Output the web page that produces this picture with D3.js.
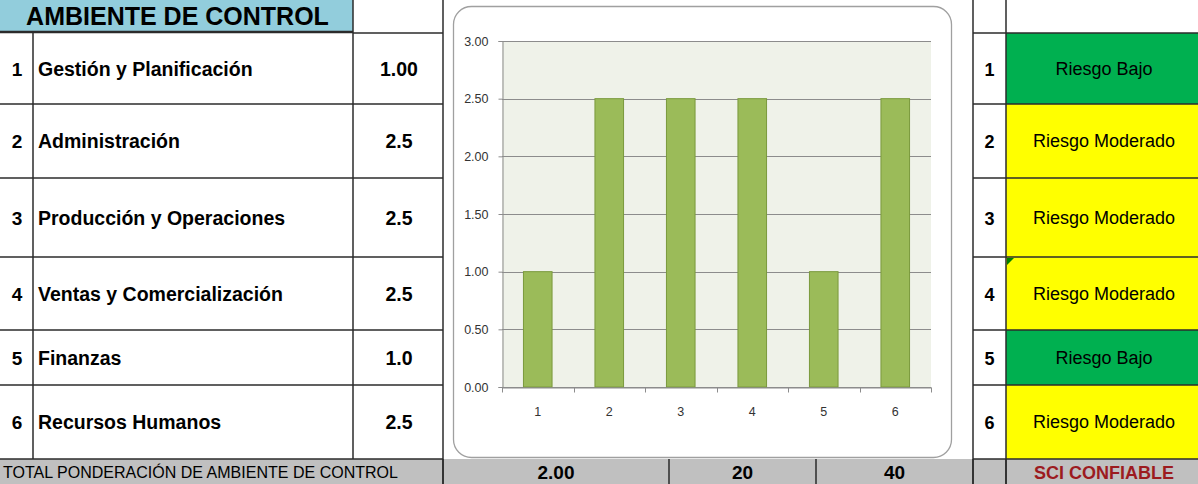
<!DOCTYPE html>
<html>
<head>
<meta charset="utf-8">
<script src="https://cdn.jsdelivr.net/npm/d3@7"></script>
<style>
  html, body { margin: 0; padding: 0; background: #fff; }
  svg { display: block; }
  text { font-family: "Liberation Sans", Arial, sans-serif; }
</style>
</head>
<body>
<svg id="sheet" width="1198" height="484"></svg>
<script>
// Evaluation items of the control environment
const itemNumbers = [1, 2, 3, 4, 5, 6];
const categories = [
  "Gestión y Planificación",
  "Administración",
  "Producción y Operaciones",
  "Ventas y Comercialización",
  "Finanzas",
  "Recursos Humanos"
];
const scores = [1.0, 2.5, 2.5, 2.5, 1.0, 2.5];
const scoreDecimals = [2, 1, 1, 1, 1, 1];
const riskLevels = [
  "Riesgo Bajo",
  "Riesgo Moderado",
  "Riesgo Moderado",
  "Riesgo Moderado",
  "Riesgo Bajo",
  "Riesgo Moderado"
];
const yTicks = [0, 0.5, 1, 1.5, 2, 2.5, 3];
const title = "AMBIENTE DE CONTROL";
const totalLabel = "TOTAL PONDERACIÓN DE AMBIENTE DE CONTROL";
const totalExtras = [20, 40];
const verdict = "SCI CONFIABLE";

const riskColor = d3.scaleOrdinal()
  .domain(["Riesgo Bajo", "Riesgo Moderado"])
  .range(["#00b050", "#ffff00"]);

// Sheet layout (pixel grid of the worksheet)
const W = 1198, H = 484;
const rowEdges = [33, 104, 178, 257, 330, 385, 459];
const colNum = 33, colVal = 353, colLeftEnd = 443;
const colRNum = 973, colRText = 1006;
const totalCols = [443, 669, 816, 973, 1006];
const lineColor = "#2b2b2b";

const svg = d3.select("#sheet");

// Header cell
svg.append("rect").attr("x", 0).attr("y", 0).attr("width", colVal).attr("height", 32)
  .attr("fill", "#92cddc");
svg.append("text").attr("x", colVal / 2 + 1).attr("y", 25)
  .attr("text-anchor", "middle").attr("font-size", 25).attr("font-weight", "bold")
  .attr("fill", "#000").text(title);

// Right-hand risk cells
const rows = itemNumbers.map((n, i) => ({
  n, name: categories[i], score: scores[i], dec: scoreDecimals[i], risk: riskLevels[i],
  y0: rowEdges[i], y1: rowEdges[i + 1]
}));

svg.selectAll("rect.risk").data(rows).join("rect").attr("class", "risk")
  .attr("x", colRText).attr("y", d => d.y0)
  .attr("width", W - colRText).attr("height", d => d.y1 - d.y0)
  .attr("fill", d => riskColor(d.risk));

// Total row background
svg.append("rect").attr("x", 0).attr("y", 459).attr("width", W).attr("height", H - 459)
  .attr("fill", "#c0c0c0");

// Grid lines of the sheet
const grid = svg.append("g").attr("stroke", lineColor).attr("stroke-width", 1.5);
grid.append("line").attr("x1", 0).attr("x2", colVal).attr("y1", 32).attr("y2", 32).attr("stroke-width", 2.5);
grid.append("line").attr("x1", colVal).attr("x2", colLeftEnd).attr("y1", 33).attr("y2", 33);
rowEdges.slice(1).forEach(y => {
  grid.append("line").attr("x1", 0).attr("x2", colLeftEnd).attr("y1", y).attr("y2", y);
});
rowEdges.forEach(y => {
  grid.append("line").attr("x1", colRNum).attr("x2", W).attr("y1", y).attr("y2", y);
});
grid.append("line").attr("x1", colNum).attr("x2", colNum).attr("y1", 33).attr("y2", 459);
grid.append("line").attr("x1", colVal).attr("x2", colVal).attr("y1", 0).attr("y2", 459);
grid.append("line").attr("x1", colLeftEnd).attr("x2", colLeftEnd).attr("y1", 0).attr("y2", H);
grid.append("line").attr("x1", colRNum).attr("x2", colRNum).attr("y1", 0).attr("y2", H);
grid.append("line").attr("x1", colRText).attr("x2", colRText).attr("y1", 0).attr("y2", H);
totalCols.forEach(x => {
  grid.append("line").attr("x1", x).attr("x2", x).attr("y1", 459).attr("y2", H);
});

// Comment marker on row 4 risk cell
svg.append("path")
  .attr("d", `M${colRText + 1},${rowEdges[3] + 1} h7 l-7,7 z`)
  .attr("fill", "#008000");

// Left table text
const fmt = d => d3.format(`.${d.dec}f`)(d.score);
svg.selectAll("text.num").data(rows).join("text").attr("class", "num")
  .attr("x", 17).attr("y", d => (d.y0 + d.y1) / 2 + 7)
  .attr("text-anchor", "middle").attr("font-size", 19).attr("font-weight", "bold")
  .text(d => d.n);
svg.selectAll("text.name").data(rows).join("text").attr("class", "name")
  .attr("x", 38).attr("y", d => (d.y0 + d.y1) / 2 + 7)
  .attr("font-size", 19.5).attr("font-weight", "bold")
  .text(d => d.name);
svg.selectAll("text.val").data(rows).join("text").attr("class", "val")
  .attr("x", 399).attr("y", d => (d.y0 + d.y1) / 2 + 7)
  .attr("text-anchor", "middle").attr("font-size", 19.5).attr("font-weight", "bold")
  .text(fmt);

// Right table text
svg.selectAll("text.rnum").data(rows).join("text").attr("class", "rnum")
  .attr("x", (colRNum + colRText) / 2).attr("y", d => (d.y0 + d.y1) / 2 + 7)
  .attr("text-anchor", "middle").attr("font-size", 18).attr("font-weight", "bold")
  .text(d => d.n);
svg.selectAll("text.risk").data(rows).join("text").attr("class", "risk")
  .attr("x", (colRText + W) / 2 + 2).attr("y", d => (d.y0 + d.y1) / 2 + 6)
  .attr("text-anchor", "middle").attr("font-size", 18)
  .text(d => d.risk);

// Total row
svg.append("text").attr("x", 3).attr("y", 478)
  .attr("font-size", 17).attr("textLength", 395).attr("lengthAdjust", "spacingAndGlyphs")
  .text(totalLabel);
const totalScore = d3.mean(scores);
const totalCells = [d3.format(".2f")(totalScore), ...totalExtras.map(String)];
svg.selectAll("text.total").data(totalCells).join("text").attr("class", "total")
  .attr("x", (d, i) => (totalCols[i] + totalCols[i + 1]) / 2)
  .attr("y", 479).attr("text-anchor", "middle")
  .attr("font-size", 19).attr("font-weight", "bold")
  .text(d => d);
svg.append("text").attr("x", (colRText + W) / 2 + 2).attr("y", 479)
  .attr("text-anchor", "middle").attr("font-size", 19).attr("font-weight", "bold")
  .attr("fill", "#9c1b1f").attr("textLength", 140).attr("lengthAdjust", "spacingAndGlyphs")
  .text(verdict);

// Embedded column chart
svg.append("rect").attr("x", 453.5).attr("y", 6.5).attr("width", 498).attr("height", 451)
  .attr("rx", 18).attr("ry", 18)
  .attr("fill", "#fff").attr("stroke", "#a0a0a0").attr("stroke-width", 1.3);

const plot = { left: 502, right: 931, top: 41, bottom: 387 };
const x = d3.scaleBand().domain(itemNumbers)
  .range([plot.left, plot.right]).paddingInner(0.6).paddingOuter(0.3);
const y = d3.scaleLinear().domain([0, 3]).range([plot.bottom, plot.top]);

const chart = svg.append("g");
chart.append("rect").attr("x", plot.left).attr("y", plot.top)
  .attr("width", plot.right - plot.left).attr("height", plot.bottom - plot.top)
  .attr("fill", "#eff2e9");

chart.append("g").selectAll("line").data(yTicks).join("line")
  .attr("x1", plot.left).attr("x2", plot.right)
  .attr("y1", d => Math.round(y(d)) + 0.5).attr("y2", d => Math.round(y(d)) + 0.5)
  .attr("stroke", "#8c8c8c").attr("stroke-width", 1);

chart.append("g").selectAll("rect").data(rows).join("rect")
  .attr("x", d => x(d.n)).attr("width", x.bandwidth())
  .attr("y", d => y(d.score)).attr("height", d => y(0) - y(d.score))
  .attr("fill", "#9bbb59").attr("stroke", "#7a9a3c").attr("stroke-width", 1);

// Y axis
const yAxis = chart.append("g").attr("transform", `translate(${plot.left + 0.5},0)`)
  .call(d3.axisLeft(y).tickValues(yTicks).tickFormat(d3.format(".2f")).tickSize(4).tickPadding(10));
yAxis.select(".domain").attr("stroke", "#8c8c8c");
yAxis.selectAll(".tick line").attr("stroke", "#8c8c8c");
yAxis.selectAll(".tick text").attr("font-family", "'Liberation Sans', Arial, sans-serif")
  .attr("font-size", 12.5).attr("fill", "#333");

// X axis with ticks on category boundaries
const xAxis = chart.append("g").attr("transform", `translate(0,${plot.bottom + 0.5})`)
  .call(d3.axisBottom(x).tickSize(0).tickPadding(20));
xAxis.select(".domain").attr("stroke", "#8c8c8c");
xAxis.selectAll(".tick text").attr("font-family", "'Liberation Sans', Arial, sans-serif")
  .attr("font-size", 12.5).attr("fill", "#333");
const boundaries = itemNumbers.map(n => x(n) - (x.step() - x.bandwidth()) / 2).concat([plot.right]);
xAxis.append("g").selectAll("line").data(boundaries).join("line")
  .attr("x1", d => Math.round(d) + 0.5).attr("x2", d => Math.round(d) + 0.5)
  .attr("y1", 0).attr("y2", 5).attr("stroke", "#8c8c8c");
</script>
</body>
</html>
